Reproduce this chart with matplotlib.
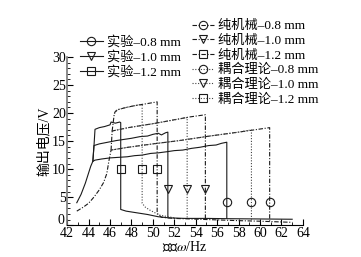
import matplotlib
matplotlib.use("Agg")
import matplotlib.pyplot as plt
from matplotlib.ticker import MultipleLocator, FuncFormatter

plt.rcParams["font.family"] = ["Liberation Serif", "Noto Sans CJK SC"]
plt.rcParams["mathtext.fontset"] = "stix"

# experiment (solid)
exp08_x = [42.9, 43.3, 43.7, 44.0, 44.2, 44.4, 44.6, 45.2, 46.0, 46.8, 47.6, 48.3, 49.0, 49.8, 50.5, 51.3,
           52.0, 52.8, 53.6, 54.4, 55.2, 55.9, 56.4, 56.9, 56.9]
exp08_y = [4.0, 5.5, 7.5, 9.3, 10.5, 11.4, 11.6, 11.8, 12.0, 12.1, 12.2, 12.4, 12.5, 12.8, 12.9, 13.1,
           13.3, 13.4, 13.7, 13.9, 14.2, 14.3, 14.6, 14.8, 1.2]
exp10_x = [44.4, 44.5, 45.0, 45.8, 46.6, 47.3, 48.0, 48.8, 49.5, 50.0, 50.5, 50.8, 51.2, 51.4, 51.4]
exp10_y = [11.4, 14.2, 14.5, 14.8, 15.1, 15.3, 15.5, 15.8, 15.9, 16.2, 16.4, 16.1, 16.5, 16.6, 1.5]
exp12_x = [44.4, 44.5, 44.6, 45.0, 45.5, 46.0, 46.1, 46.5, 46.9, 47.0, 47.0, 47.5, 48.5, 49.5, 50.5,
           51.5, 53.0, 55.0, 57.0, 60.0, 63.0]
exp12_y = [11.4, 14.0, 17.1, 17.4, 17.6, 17.9, 18.4, 18.2, 18.4, 18.3, 2.8, 2.5, 2.2, 1.9, 1.5,
           1.3, 1.2, 1.2, 1.15, 1.1, 1.05]

# pure mechanical (dash-dot)
mech08_x = [42.9, 43.5, 44.0, 44.5, 45.0, 45.4, 45.7, 45.9, 46.1, 47.7, 50.0, 52.5, 55.3, 58.0, 60.9, 60.9]
mech08_y = [2.5, 3.2, 3.9, 5.0, 6.3, 7.6, 9.2, 11.5, 13.4, 13.9, 14.5, 15.1, 15.9, 16.6, 17.4, 0.7]
mech10_x = [46.1, 46.2, 47.7, 50.0, 53.4, 54.9, 54.9]
mech10_y = [13.4, 16.8, 17.4, 18.1, 19.3, 19.7, 1.1]
mech12_x = [46.2, 46.4, 46.5, 46.7, 47.5, 48.5, 49.5, 50.4, 50.4, 50.8, 52.0, 55.0, 58.0, 60.0, 63.0]
mech12_y = [16.8, 19.9, 20.3, 20.6, 21.0, 21.4, 21.7, 22.0, 2.1, 1.4, 1.2, 1.0, 0.8, 0.7, 0.5]

# coupled theory (dotted)
coup08_x = [46.1, 47.7, 50.0, 52.5, 55.3, 58.0, 59.2, 59.2]
coup08_y = [13.4, 13.9, 14.5, 15.1, 15.9, 16.6, 17.0, 0.8]
coup10_x = [46.2, 47.7, 50.0, 53.2, 53.2]
coup10_y = [16.8, 17.4, 18.1, 19.2, 1.1]
coup12_x = [46.4, 46.7, 47.5, 48.5, 49.0, 49.0, 49.3, 49.7, 50.6, 52.0]
coup12_y = [19.9, 20.6, 21.0, 21.4, 21.5, 3.9, 3.2, 2.7, 1.8, 1.3]

# markers on the jump lines
sq_x = [47.0, 49.0, 50.4]
sq_y = [10.0, 10.0, 10.0]
tri_x = [51.4, 53.2, 54.9]
tri_y = [6.5, 6.5, 6.5]
cir_x = [56.9, 59.2, 60.9]
cir_y = [4.2, 4.2, 4.2]

col = "#1a1a1a"
dashdot = (0, (4, 1.5, 1, 1.5))
dotted = (0, (1, 1.5))
lw = 0.8
ms = 6

fig = plt.figure(figsize=(3.61, 2.57), dpi=100)
ax = fig.add_axes([0.186, 0.124, 0.653, 0.654])

ax.plot(exp08_x, exp08_y, color=col, lw=lw)
ax.plot(exp10_x, exp10_y, color=col, lw=lw)
ax.plot(exp12_x, exp12_y, color=col, lw=lw)
ax.plot(mech08_x, mech08_y, color=col, lw=lw, ls=dashdot)
ax.plot(mech10_x, mech10_y, color=col, lw=lw, ls=dashdot)
ax.plot(mech12_x, mech12_y, color=col, lw=lw, ls=dashdot)
ax.plot(coup08_x, coup08_y, color="#444444", lw=lw, ls=dotted)
ax.plot(coup10_x, coup10_y, color="#444444", lw=lw, ls=dotted)
ax.plot(coup12_x, coup12_y, color="#444444", lw=lw, ls=dotted)

mk = dict(ls="none", mfc="none", mec=col, ms=ms, mew=0.8)
ax.plot(sq_x, sq_y, marker="s", **mk)
ax.plot(tri_x, tri_y, marker="v", **mk)
ax.plot(cir_x, cir_y, marker="o", **mk)

# legend handles
names = ["0.8 mm", "1.0 mm", "1.2 mm"]
marks = ["o", "v", "s"]
h1 = [ax.plot([], [], color=col, lw=lw, marker=m, mfc="none", mec=col, ms=ms, mew=0.8)[0] for m in marks]
h2 = [ax.plot([], [], color=col, lw=lw, ls=dashdot, marker=m, mfc="none", mec=col, ms=ms, mew=0.8)[0]
      for m in marks]
h3 = [ax.plot([], [], color="#444444", lw=lw, ls=dotted, marker=m, mfc="none", mec=col, ms=ms, mew=0.8)[0]
      for m in marks]

fs = 9.5
fig.legend(h1, ["实验–" + n for n in names], loc="center left", bbox_to_anchor=(0.222, 0.777),
           frameon=False, fontsize=fs, handlelength=1.7, handletextpad=0.3, labelspacing=0.18,
           borderpad=0, borderaxespad=0)
fig.legend(h2 + h3, ["纯机械–" + n for n in names] + ["耦合理论–" + n for n in names],
           loc="center left", bbox_to_anchor=(0.532, 0.755), frameon=False, fontsize=fs,
           handlelength=1.7, handletextpad=0.3, labelspacing=0.18, borderpad=0, borderaxespad=0)

ax.set_xlim(42, 64)
ax.set_ylim(0, 30)
ax.xaxis.set_major_locator(MultipleLocator(2))
ax.xaxis.set_minor_locator(MultipleLocator(1))
ax.yaxis.set_major_locator(MultipleLocator(5))
ax.yaxis.set_minor_locator(MultipleLocator(1))
# the "0" is drawn a little higher below, so it clears the "42"
ax.yaxis.set_major_formatter(FuncFormatter(lambda v, p: "" if v == 0 else f"{v:g}"))
ax.tick_params(which="both", direction="in", labelsize=10, pad=1)
ax.tick_params(which="major", length=4)
ax.tick_params(which="minor", length=2)
ax.spines["top"].set_visible(False)
ax.spines["right"].set_visible(False)
ax.spines["left"].set_color("#777777")
ax.spines["left"].set_linewidth(1.2)

ax.annotate("0", xy=(0, 0), xycoords=("axes fraction", "data"), xytext=(-2, 3.5),
            textcoords="offset points", ha="right", va="center", fontsize=10)

ax.set_xlabel("频率$\\omega$/Hz", fontsize=10, labelpad=0)
ax.set_ylabel("输出电压/V", fontsize=10, labelpad=1)

fig.savefig("out.png", dpi=100)
